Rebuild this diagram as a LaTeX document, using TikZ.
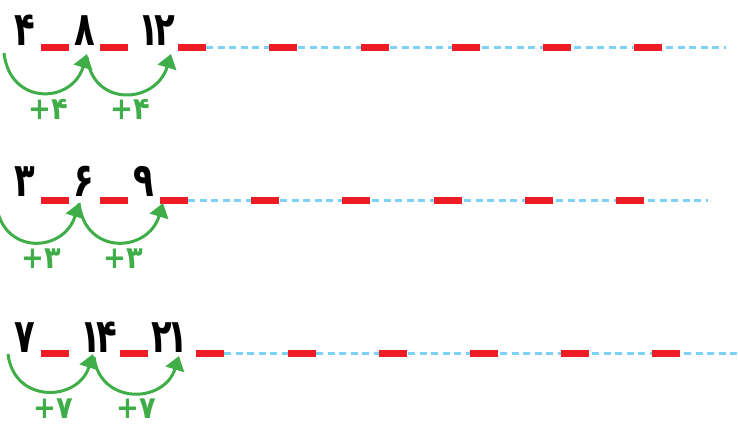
\documentclass[tikz,border=0pt]{standalone}
\usepackage{fontspec}
\usepackage{graphicx}
\newfontfamily\fa{DejaVu Sans}
\usetikzlibrary{arrows.meta}
\definecolor{dred}{HTML}{EE1C24}
\definecolor{dblue}{HTML}{7DD3F5}
\definecolor{dgreen}{HTML}{3FAE49}
\newcommand\narrowdg[1]{\scalebox{0.72}[1]{#1}}
\newcommand\narrowinc[1]{\scalebox{0.88}[1]{#1}}
\tikzset{
  num/.style={anchor=base,inner sep=0pt,font=\fa\bfseries\fontsize{47}{47}\selectfont,text=black},
  inc/.style={anchor=base,inner sep=0pt,text depth=0pt,font=\fa\bfseries\fontsize{31}{31}\selectfont,text=dgreen},
  reddash/.style={draw=dred,line width=7pt},
  blueline/.style={draw=dblue,line width=2.6pt,dash pattern=on 7pt off 4.5pt},
  jump/.style={draw=dgreen,line width=3pt,-{Triangle[length=14pt,width=19pt]}},
}
\begin{document}
\begin{tikzpicture}[x=1pt,y=-1pt]
\useasboundingbox (0,0) rectangle (738,424);
% ---------- row 1 ----------
\draw[blueline] (206,47.5) -- (726,47.5);
\foreach \a in {41,100,178,269,361,452,543,634} \draw[reddash] (\a,47.5) -- +(28,0);
\node[num] (n11) at (24.5,45) {\narrowdg{۴}};
\node[num] (n12) at (85,45) {\narrowdg{۸}};
\node[num] (n13) at (157,45) {\narrowdg{۱\kern-6pt۲}};
\coordinate (s11) at (4,53);
\coordinate (t11) at (87,54);
\coordinate (s12) at (87,57);
\coordinate (t12) at (171,54);
\draw[jump] (s11) .. controls +(6,53) and +(-15,50) .. (t11);
\draw[jump] (s12) .. controls +(6,51) and +(-15,50) .. (t12);
\node[inc] (p11) at (48,119.5) {\narrowinc{+۴}};
\node[inc] (p12) at (130,119.5) {\narrowinc{+۴}};
% ---------- row 2 ----------
\draw[blueline] (188,200.3) -- (708,200.3);
\foreach \a in {41,100,160,251,342,434,525,616} \draw[reddash] (\a,200.3) -- +(28,0);
\node[num] (n21) at (25,196) {\narrowdg{۳}};
\node[num] (n22) at (83.5,196) {\narrowdg{۶}};
\node[num] (n23) at (144,196) {\narrowdg{۹}};
\coordinate (s21) at (-4,203);
\coordinate (t21) at (79,203);
\coordinate (s22) at (79,203);
\coordinate (t22) at (163,203);
\draw[jump] (s21) .. controls +(6,53) and +(-15,50) .. (t21);
\draw[jump] (s22) .. controls +(6,53) and +(-15,50) .. (t22);
\node[inc] (p21) at (41,268.5) {\narrowinc{+۳}};
\node[inc] (p22) at (123,268.5) {\narrowinc{+۳}};
% ---------- row 3 ----------
\draw[blueline] (224,353.3) -- (740,353.3);
\foreach \a in {41,120,196,288,379,470,561,652} \draw[reddash] (\a,353.3) -- +(28,0);
\node[num] (n31) at (24.5,352) {\narrowdg{۷}};
\node[num] (n32) at (98.5,352) {\narrowdg{۱\kern-6pt۴}};
\node[num] (n33) at (170,352) {\narrowdg{۲\kern-6pt۱}};
\coordinate (s31) at (8,354);
\coordinate (t31) at (93,354);
\coordinate (s32) at (94,357);
\coordinate (t32) at (179,356);
\draw[jump] (s31) .. controls +(6,50) and +(-15,48) .. (t31);
\draw[jump] (s32) .. controls +(6,48) and +(-15,48) .. (t32);
\node[inc] (p31) at (53,418) {\narrowinc{+۷}};
\node[inc] (p32) at (136,418) {\narrowinc{+۷}};
\end{tikzpicture}
\end{document}
